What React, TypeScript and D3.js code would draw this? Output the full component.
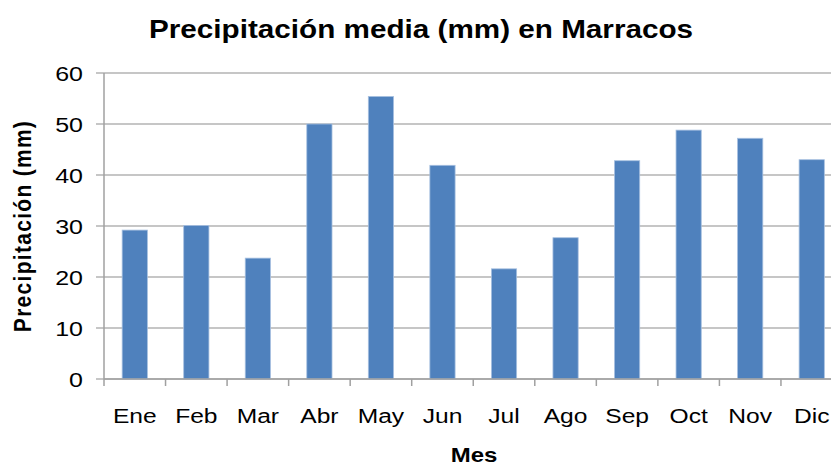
import React from 'react';
import * as d3 from 'd3';

const months = ['Ene', 'Feb', 'Mar', 'Abr', 'May', 'Jun', 'Jul', 'Ago', 'Sep', 'Oct', 'Nov', 'Dic'];
const precip = [29.2, 30.1, 23.7, 50.0, 55.4, 41.9, 21.6, 27.7, 42.8, 48.8, 47.2, 43.0];
const yTicks = [0, 10, 20, 30, 40, 50, 60];

const width = 831;
const height = 467;
const marginLeft = 104;
const plotRight = 842.5;
const marginTop = 73;
const plotBottom = 379;

const font = '"Liberation Sans", Arial, sans-serif';

// the source picture is stretched sideways, so text is widened with scaleX
const Wide = ({ x, y, sx, anchor = 'middle', size, bold = false, children }: any) => (
    <g transform={`translate(${x},${y}) scale(${sx},1)`}>
        <text textAnchor={anchor} fontFamily={font} fontSize={size} fontWeight={bold ? 'bold' : 'normal'} fill="#000">
            {children}
        </text>
    </g>
);

const App = () => {
    const x = d3.scaleBand().domain(months).range([marginLeft, plotRight]).paddingInner(0.59).paddingOuter(0.295);
    const xTick = d3.scaleBand().domain(months).range([marginLeft, plotRight]);
    const y = d3.scaleLinear().domain([0, 60]).range([plotBottom, marginTop]);

    return (
        <svg width={width} height={height} style={{ position: 'absolute', left: 0, top: 0, background: '#fff' }}>
            <Wide x={421} y={37.5} sx={1.12} size={26.5} bold>Precipitación media (mm) en Marracos</Wide>

            <g>
                {yTicks.map(t => (
                    <g key={t}>
                        <line x1={96} x2={plotRight} y1={y(t)} y2={y(t)} stroke="#b3b3b3" strokeWidth={1.5} />
                        <Wide x={83} y={y(t) + 7.5} sx={1.22} anchor="end" size={20.5}>{t}</Wide>
                    </g>
                ))}
            </g>

            <g>
                {months.map((m, i) => (
                    <rect key={m} x={x(m)} y={y(precip[i])} width={x.bandwidth()} height={plotBottom - y(precip[i])}
                        fill="#4f81bd" stroke="#a7c0e0" strokeWidth={0.8} />
                ))}
            </g>

            <line x1={marginLeft} x2={marginLeft} y1={marginTop} y2={plotBottom} stroke="#a0a0a0" strokeWidth={1.5} />
            <line x1={marginLeft} x2={plotRight} y1={plotBottom} y2={plotBottom} stroke="#a0a0a0" strokeWidth={1.5} />
            {months.map(m => (
                <line key={m} x1={xTick(m)} x2={xTick(m)} y1={plotBottom} y2={plotBottom + 7} stroke="#a0a0a0" strokeWidth={1.5} />
            ))}
            {months.map(m => (
                <Wide key={m} x={x(m)! + x.bandwidth() / 2} y={422.5} sx={1.23} size={20}>{m}</Wide>
            ))}

            <Wide x={474} y={462} sx={1.2} size={20} bold>Mes</Wide>
            <g transform={`translate(31, ${(marginTop + plotBottom) / 2}) rotate(-90) scale(1,1.15)`}>
                <text textAnchor="middle" fontFamily={font} fontWeight="bold" fontSize={21} letterSpacing={1.3} fill="#000">
                    Precipitación (mm)
                </text>
            </g>
        </svg>
    );
};

export default App;
